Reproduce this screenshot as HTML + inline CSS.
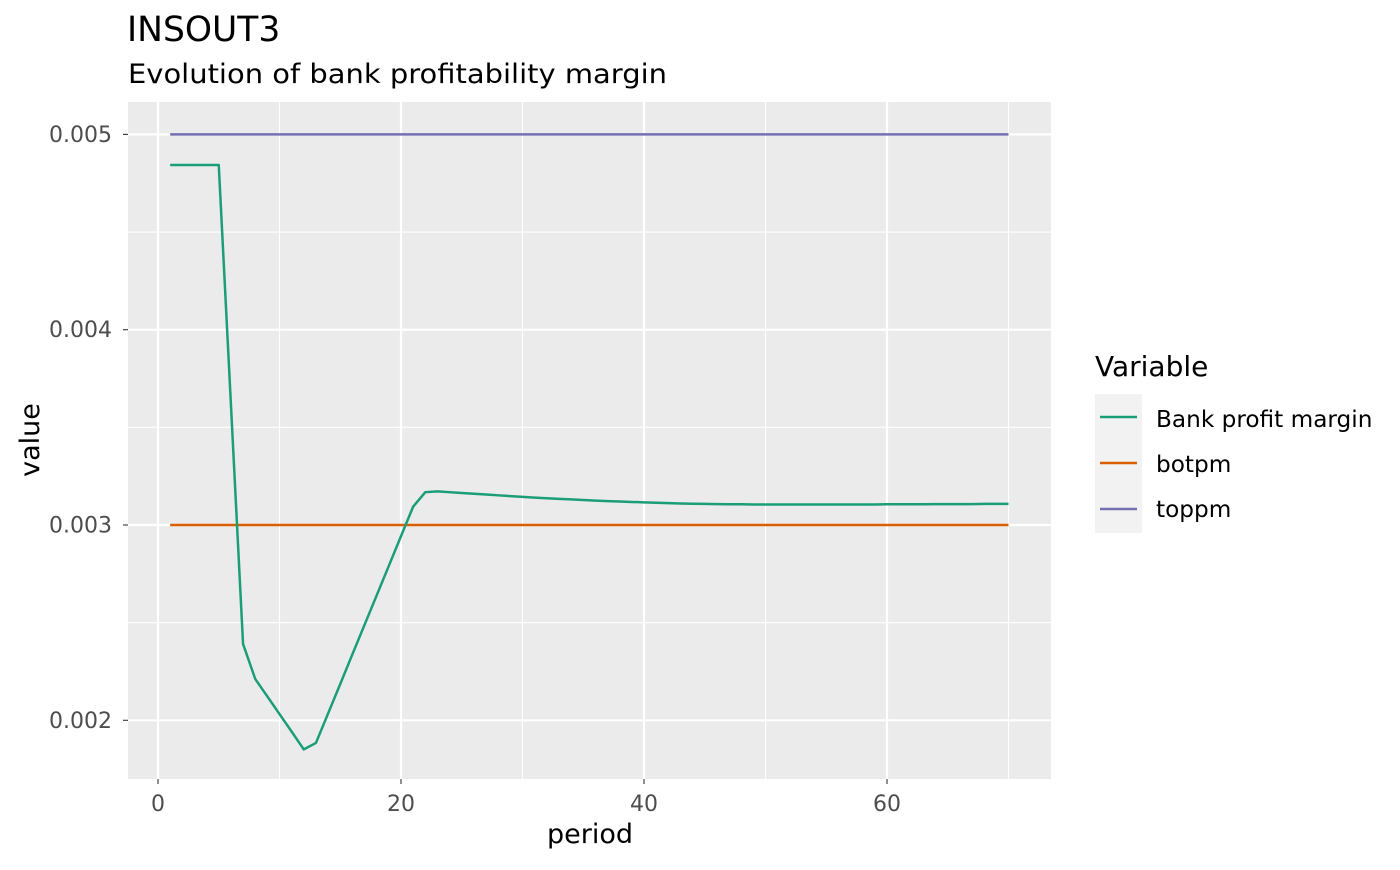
<!DOCTYPE html>
<html><head><meta charset="utf-8"><style>
body{margin:0;background:#fff;font-family:"Liberation Sans","DejaVu Sans",sans-serif}
</style></head><body>
<svg id="chart" width="1400" height="865" xmlns="http://www.w3.org/2000/svg" font-family="DejaVu Sans, Liberation Sans, sans-serif">
<text x="127" y="41" font-size="34.5" fill="#000">INSOUT3</text>
<text x="128" y="83" font-size="27" fill="#000" textLength="539" lengthAdjust="spacingAndGlyphs">Evolution of bank profitability margin</text>
<rect x="128" y="102" width="923" height="677" fill="#ebebeb"/>
<g id="grid"></g>
<g id="series"></g>
<g id="axes"></g>
<text x="590" y="843" font-size="27" text-anchor="middle" fill="#000">period</text>
<text transform="translate(39,440) rotate(-90)" font-size="27" text-anchor="middle" fill="#000">value</text>
<g>
<text x="1095" y="376" font-size="28" fill="#000">Variable</text>
<rect x="1095" y="394" width="47" height="139" fill="#f2f2f2"/>
<g><line x1="1100" x2="1137" y1="417" y2="417" stroke="#1b9e77" stroke-width="2.5"/><text x="1156" y="427" font-size="23.2">Bank profit margin</text></g>
<g><line x1="1100" x2="1137" y1="463" y2="463" stroke="#d95f02" stroke-width="2.5"/><text x="1156" y="472" font-size="23.2">botpm</text></g>
<g><line x1="1100" x2="1137" y1="509" y2="509" stroke="#7570b3" stroke-width="2.5"/><text x="1156" y="517" font-size="23.2">toppm</text></g>
</g>
</svg>
<script>
const periods = Array.from({length:70},(_,i)=>i+1);
const bankMargin = [0.004843,0.004843,0.004843,0.004843,0.004843,0.00362,0.002391,0.002212,0.002122,0.002032,
0.001942,0.001851,0.001884,0.002035,0.002186,0.002338,0.002489,0.00264,0.002791,0.002943,
0.003094,0.003168,0.003172,0.003168,0.003164,0.00316,0.003156,0.003152,0.003148,0.003144,
0.00314,0.003137,0.003134,0.003131,0.003128,0.003125,0.003122,0.00312,0.003118,0.003116,
0.003114,0.003112,0.00311,0.003109,0.003108,0.003107,0.003106,0.003106,0.003105,0.003105,
0.003105,0.003105,0.003105,0.003105,0.003105,0.003105,0.003105,0.003105,0.003105,0.003106,
0.003106,0.003106,0.003106,0.003107,0.003107,0.003107,0.003107,0.003108,0.003108,0.003108];
const botpm = periods.map(()=>0.003);
const toppm = periods.map(()=>0.005);
const xTicks = [0,20,40,60];
const xMinor = [10,30,50,70];
const yTicks = [0.002,0.003,0.004,0.005];
const yMinor = [0.0025,0.0035,0.0045];
const yTickLabels = ["0.002","0.003","0.004","0.005"];

const NS="http://www.w3.org/2000/svg";
const xs = v => 158 + v*12.15;
const ys = v => 525 - (v-0.003)*195300;
function mk(tag,attrs,parent){const e=document.createElementNS(NS,tag);for(const k in attrs)e.setAttribute(k,attrs[k]);parent.appendChild(e);return e;}
const grid=document.getElementById('grid'), ser=document.getElementById('series'), ax=document.getElementById('axes');
xMinor.forEach(v=>{const l=mk('line',{x1:xs(v),x2:xs(v),y1:102,y2:779,stroke:'#fff','stroke-width':1.1},grid);

});
yMinor.forEach(v=>{const l=mk('line',{x1:128,x2:1051,y1:ys(v),y2:ys(v),stroke:'#fff','stroke-width':1.1},grid);

});
xTicks.forEach(v=>{const l=mk('line',{x1:xs(v),x2:xs(v),y1:102,y2:779,stroke:'#fff','stroke-width':2.2},grid);


const t=mk('line',{x1:xs(v),x2:xs(v),y1:779,y2:784,stroke:'#333','stroke-width':1.1},ax);


const tx=mk('text',{x:xs(v),y:811,'font-size':22,'text-anchor':'middle',fill:'#4d4d4d'},ax);tx.textContent=v;

});
yTicks.forEach((v,i)=>{const l=mk('line',{x1:128,x2:1051,y1:ys(v),y2:ys(v),stroke:'#fff','stroke-width':2.2},grid);


const t=mk('line',{x1:123,x2:128,y1:ys(v),y2:ys(v),stroke:'#333','stroke-width':1.1},ax);


const tx=mk('text',{x:112,y:ys(v)+7.5,'font-size':22,'text-anchor':'end',fill:'#4d4d4d'},ax);tx.textContent=yTickLabels[i];

});
function line(vals,color,name){const d=vals.map((v,i)=>(i?'L':'M')+xs(periods[i]).toFixed(2)+','+ys(v).toFixed(2)).join('');
const p=mk('path',{d:d,fill:'none',stroke:color,'stroke-width':2.5,'stroke-linejoin':'round'},ser);

}
line(botpm,'#d95f02','botpm-line');
line(toppm,'#7570b3','toppm-line');
line(bankMargin,'#1b9e77','bank-profit-margin-line');
</script>
</body></html>
